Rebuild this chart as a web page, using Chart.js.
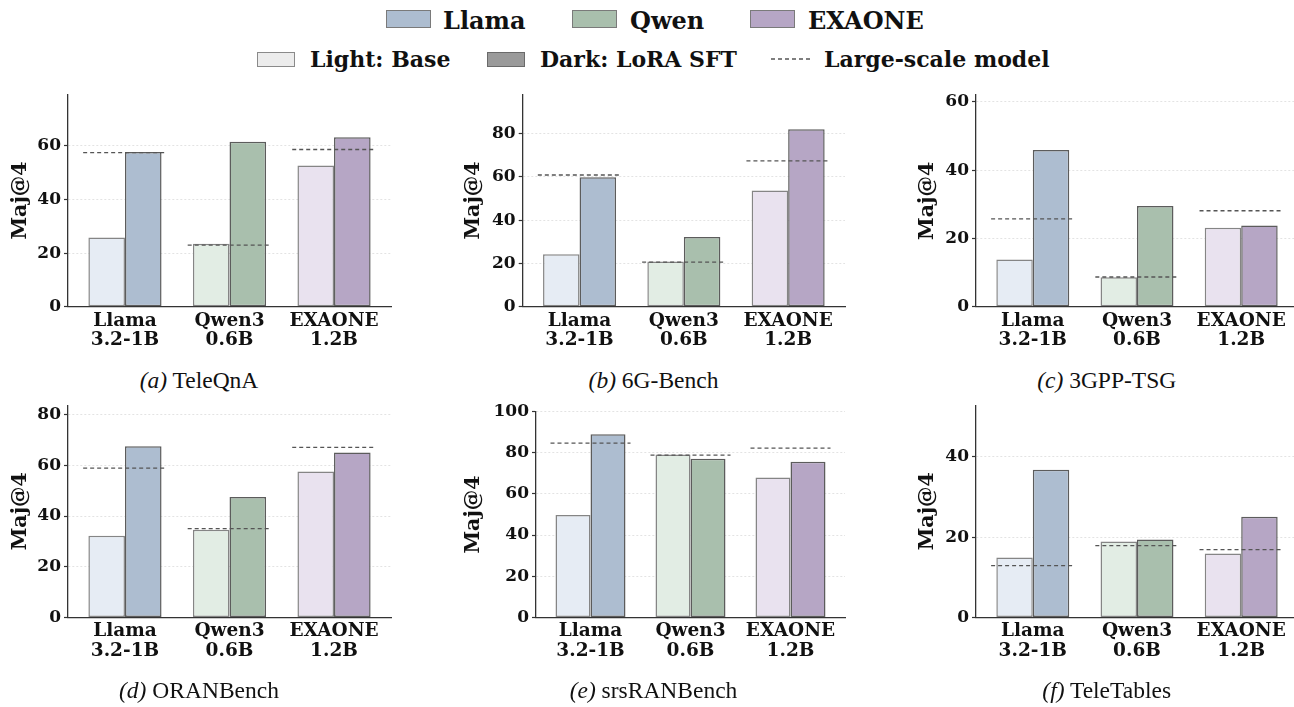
<!DOCTYPE html>
<html>
<head>
<meta charset="utf-8">
<script src="https://cdn.jsdelivr.net/npm/chart.js@4.4.1/dist/chart.umd.min.js"></script>
<style>
  html, body { margin:0; padding:0; background:#fff; width:1294px; height:707px; overflow:hidden; }
  .cv { position:absolute; }
  .cap { position:absolute; font-family:'Liberation Serif', serif; font-size:23.5px; color:#111; white-space:nowrap; transform:translate(-50%,-50%); }
  .lg { position:absolute; font-family:'DejaVu Serif', serif; font-weight:bold; color:#111; white-space:nowrap; transform:translateY(-50%); }
  .box { position:absolute; box-sizing:border-box; border:1px solid #7a7a7a; }
</style>
</head>
<body>
<div id="legend"></div>
<div id="wrap"></div>
<script>
// ---------- data ----------
const categories = [['Llama', '3.2-1B'], ['Qwen3', '0.6B'], ['EXAONE', '1.2B']];
const familyNames = ['Llama', 'Qwen', 'EXAONE'];
const panelLetters = ['(a)', '(b)', '(c)', '(d)', '(e)', '(f)'];
const benchmarks = ['TeleQnA', '6G-Bench', '3GPP-TSG', 'ORANBench', 'srsRANBench', 'TeleTables'];
const yTitle = 'Maj@4';

const teleQnABase  = [25.8, 23.5, 52.7];
const teleQnASFT   = [57.8, 61.6, 63.3];
const teleQnALarge = [57.5, 23.0, 58.7];

const sixGBase  = [24.2, 20.9, 53.7];
const sixGSFT   = [59.8, 32.2, 82.0];
const sixGLarge = [60.9, 20.6, 67.4];

const tsgBase  = [13.8, 8.6, 23.1];
const tsgSFT   = [45.9, 29.5, 23.8];
const tsgLarge = [25.7, 8.7, 28.1];

const oranBase  = [32.2, 34.6, 57.6];
const oranSFT   = [67.6, 47.5, 65.1];
const oranLarge = [58.9, 35.0, 67.1];

const srsranBase  = [49.7, 79.2, 68.0];
const srsranSFT   = [89.0, 77.1, 75.6];
const srsranLarge = [84.7, 78.9, 82.3];

const teleTablesBase  = [14.9, 18.9, 15.9];
const teleTablesSFT   = [36.8, 19.4, 25.1];
const teleTablesLarge = [12.9, 17.9, 16.9];

const yAxisMax = [79.3, 98.2, 62.0, 83.8, 100.0, 52.9];
const yTickStep = 20;

// ---------- styles ----------
const lightColors = ['#e6ecf4', '#e2ede4', '#e9e2ef'];
const darkColors  = ['#adbdd0', '#a9bfad', '#b6a6c5'];
const baseEdge = '#858585';
const sftEdge  = '#5c5c5c';
const serifBold = 'DejaVu Serif';

const panelData = [
  [teleQnABase, teleQnASFT, teleQnALarge],
  [sixGBase, sixGSFT, sixGLarge],
  [tsgBase, tsgSFT, tsgLarge],
  [oranBase, oranSFT, oranLarge],
  [srsranBase, srsranSFT, srsranLarge],
  [teleTablesBase, teleTablesSFT, teleTablesLarge]
];

// layout (pixel geometry of each subplot)
const colLeft = [0, 454, 908];
const titleCx = [21, 474, 927.5];
const capCx = [199, 653.5, 1106.7];
const rowTop = [80, 392];
const capCy = [380, 690];
const layouts = [
  {col:0,row:0,left:68,  right:391,  top:94.3,  bottom:306.7},
  {col:1,row:0,left:522.7,right:845, top:94.3,  bottom:306.7},
  {col:2,row:0,left:976, right:1298, top:95,    bottom:306.7},
  {col:0,row:1,left:68,  right:391,  top:405,   bottom:617.3},
  {col:1,row:1,left:536, right:845,  top:411.7, bottom:617.3},
  {col:2,row:1,left:976, right:1298, top:405,   bottom:617.3}
];
const canvasH = 285;
const titleFontSize = 20.5;
const titleLH = 1.0;

// ---------- legend ----------
const legend = document.getElementById('legend');
function addBox(x, y, w, h, color, border) {
  const d = document.createElement('div');
  d.className = 'box';
  Object.assign(d.style, {left:x+'px', top:y+'px', width:w+'px', height:h+'px', background:color, borderColor:border});
  legend.appendChild(d);
}
function addText(x, cy, size, text) {
  const d = document.createElement('div');
  d.className = 'lg';
  Object.assign(d.style, {left:x+'px', top:cy+'px', fontSize:size+'px'});
  d.textContent = text;
  legend.appendChild(d);
}
const row1Box = [386, 572, 750];
const row1Txt = [443, 630, 808];
familyNames.forEach((n, i) => {
  addBox(row1Box[i], 10, 45, 18, darkColors[i], '#7a7a7a');
  addText(row1Txt[i], 19.5, 24, n);
});
addBox(257, 51.5, 38, 15, '#ececec', '#8a8a8a');
addText(310, 59, 22, 'Light: Base');
addBox(487, 51.5, 38, 15, '#9a9a9a', '#6a6a6a');
addText(540, 59, 22, 'Dark: LoRA SFT');
(function(){
  const c = document.createElement('canvas');
  c.width = 44; c.height = 6;
  c.style.position = 'absolute'; c.style.left = '770px'; c.style.top = '56px';
  const g = c.getContext('2d');
  g.strokeStyle = '#555'; g.lineWidth = 1.3; g.setLineDash([4, 3]);
  g.beginPath(); g.moveTo(1, 3); g.lineTo(43, 3); g.stroke();
  legend.appendChild(c);
})();
addText(824, 59, 22, 'Large-scale model');

// ---------- panels ----------
const wrap = document.getElementById('wrap');
layouts.forEach((L, k) => {
  const [base, sft, large] = panelData[k];
  const cl = colLeft[L.col], rt = rowTop[L.row];
  const cw = L.right + 4 - cl;
  const padLeft = titleCx[L.col] - cl - titleFontSize * titleLH / 2;
  const padTop = L.top - rt;
  const yAxisW = L.left - cl - padLeft;
  const xAxisH = canvasH - (L.bottom - rt);

  const cv = document.createElement('canvas');
  cv.className = 'cv';
  cv.width = cw; cv.height = canvasH;
  cv.style.left = cl + 'px'; cv.style.top = rt + 'px';
  cv.style.width = cw + 'px'; cv.style.height = canvasH + 'px';
  wrap.appendChild(cv);

  const cap = document.createElement('div');
  cap.className = 'cap';
  cap.style.left = capCx[L.col] + 'px';
  cap.style.top = capCy[L.row] + 'px';
  cap.innerHTML = '<i>' + panelLetters[k] + '</i> ' + benchmarks[k];
  wrap.appendChild(cap);

  // dashed large-scale reference segments, one per category
  const largePts = [];
  large.forEach((v, i) => {
    largePts.push({x: i - 0.4, y: v}, {x: i + 0.4, y: v}, {x: i + 0.5, y: null});
  });

  new Chart(cv, {
    data: {
      datasets: [
        {
          type: 'line', label: 'Large-scale model', data: largePts, order: 0,
          borderColor: '#555', borderWidth: 1.3, borderDash: [4, 3],
          pointRadius: 0, spanGaps: false, fill: false, tension: 0
        },
        {
          type: 'bar', label: 'Base', data: base.map((v, i) => ({x: i, y: v})), order: 1,
          backgroundColor: lightColors, borderColor: baseEdge, borderWidth: 1.5, borderSkipped: false
        },
        {
          type: 'bar', label: 'LoRA SFT', data: sft.map((v, i) => ({x: i, y: v})), order: 1,
          backgroundColor: darkColors, borderColor: sftEdge, borderWidth: 1.5, borderSkipped: false
        }
      ]
    },
    options: {
      responsive: false, animation: false, devicePixelRatio: 1,
      layout: {padding: {left: padLeft, top: padTop, right: 4, bottom: 0}},
      datasets: {bar: {categoryPercentage: 0.7, barPercentage: 1.0}},
      plugins: {legend: {display: false}, tooltip: {enabled: false}},
      scales: {
        x: {
          type: 'linear', min: -0.545, max: 2.545, offset: false,
          grid: {display: false, drawTicks: false, offset: false},
          border: {display: true, color: '#333', width: 1.3},
          afterBuildTicks: s => { s.ticks = categories.map((c, i) => ({value: i})); },
          afterFit: s => { s.height = xAxisH; },
          ticks: {
            autoSkip: false, maxRotation: 0, minRotation: 0, padding: 4, color: '#111',
            font: {family: serifBold, weight: 'bold', size: 18.5, lineHeight: 1.08},
            callback: v => categories[v]
          }
        },
        y: {
          min: 0, max: yAxisMax[k],
          afterFit: s => { s.width = yAxisW; },
          ticks: {
            stepSize: yTickStep, includeBounds: false, padding: 3, color: '#111',
            font: {family: serifBold, weight: 'bold', size: 17}
          },
          grid: {color: '#dcdcdc', lineWidth: 0.8, tickLength: 4, tickColor: '#333', tickWidth: 1.2, tickBorderDash: []},
          border: {display: true, color: '#333', width: 1.3, dash: [2, 2]},
          title: {display: true, text: yTitle, color: '#111', padding: 0,
                  font: {family: serifBold, weight: 'bold', size: titleFontSize, lineHeight: titleLH}}
        }
      }
    }
  });
});
</script>
</body>
</html>
